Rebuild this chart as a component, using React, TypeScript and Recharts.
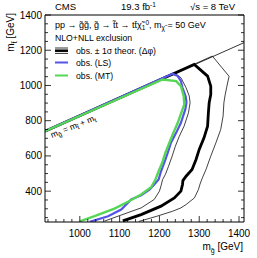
import { LineChart, Line, XAxis, YAxis } from 'recharts';

// contours in (m_gluino, m_stop) GeV
const diagonal: [number, number][] = [[912.5, 740], [1412.5, 1243]];

const obsMinus1s: [number, number][] = [
  [912.5, 740], [1237.5, 1072], [1254, 1044], [1267, 987], [1275, 940], [1277, 902], [1273, 845],
  [1262, 769], [1250, 712], [1240, 655], [1232, 599], [1223, 542], [1215, 495], [1208, 466],
  [1204, 430], [1200, 400], [1187, 353], [1154, 305], [1096, 258], [1062, 230],
];

const obsPlus1s: [number, number][] = [
  [912.5, 740], [1333, 1167], [1375, 1052], [1369, 990], [1365, 945], [1362, 902], [1360, 826],
  [1354, 750], [1342, 675], [1329, 599], [1317, 523], [1308, 476], [1302, 440], [1298, 409],
  [1288, 362], [1267, 324], [1254, 305], [1233, 286], [1194, 258], [1148, 228],
];

const obsDphi: [number, number][] = [
  [912.5, 740], [1287.5, 1119], [1321, 1053], [1329, 996], [1329, 949], [1325, 902], [1323, 845],
  [1321, 769], [1312, 703], [1300, 637], [1292, 580], [1282, 523], [1267, 485], [1259, 460],
  [1258, 438], [1254, 400], [1237.5, 362], [1204, 315], [1154, 267], [1108, 231],
];

const obsLS: [number, number][] = [
  [912.5, 740], [1233, 1067], [1246, 1053], [1254, 1025], [1258, 987], [1266, 937], [1268, 904],
  [1265, 864], [1254, 788], [1242, 731], [1229, 675], [1221, 618], [1212, 561], [1204, 513],
  [1198, 466], [1187, 438], [1175, 409], [1154, 377], [1129, 353], [1104, 296], [1071, 258], [1025, 226],
];

const obsMT: [number, number][] = [
  [912.5, 740], [1208, 1034], [1242, 1025], [1254, 996], [1261, 939], [1262.5, 892], [1258, 864],
  [1246, 788], [1235, 731], [1225, 675], [1215, 618], [1207, 561], [1198, 513], [1190, 466],
  [1179, 422], [1154, 381], [1121, 340], [1087, 301], [1037, 258], [1000, 229],
];

const xLabels = [1000, 1100, 1200, 1300, 1400];
const yLabels = [400, 600, 800, 1000, 1200, 1400];
const xDomain: [number, number] = [912.5, 1412.5];
const yDomain: [number, number] = [225, 1400];

const toRows = (pts: [number, number][]) => pts.map(([x, y]) => ({ x, y }));

const xTicks: number[] = [];
for (let v = 920; v <= 1410; v += 20) xTicks.push(v);
const yTicks: number[] = [];
for (let v = 250; v <= 1400; v += 50) yTicks.push(v);

const font = '"Liberation Sans", Arial, Helvetica, sans-serif';

const BottomTick = (p: any) => {
  const v = p.payload.value;
  const major = xLabels.includes(v);
  return (
    <g>
      <line x1={p.x} x2={p.x} y1={p.y} y2={p.y - (major ? 6 : 3)} stroke="#000" strokeWidth={0.8} />
      {major && (
        <text x={p.x} y={p.y + 15} textAnchor="middle" fontSize={10} fontFamily={font} fill="#000">{v}</text>
      )}
    </g>
  );
};

const TopTick = (p: any) => {
  const major = xLabels.includes(p.payload.value);
  return <line x1={p.x} x2={p.x} y1={p.y} y2={p.y + (major ? 6 : 3)} stroke="#000" strokeWidth={0.8} />;
};

const LeftTick = (p: any) => {
  const v = p.payload.value;
  const major = yLabels.includes(v);
  return (
    <g>
      <line x1={p.x} x2={p.x + (major ? 6 : 3)} y1={p.y} y2={p.y} stroke="#000" strokeWidth={0.8} />
      {major && (
        <text x={p.x - 3} y={p.y + 3.5} textAnchor="end" fontSize={10} fontFamily={font} fill="#000">{v}</text>
      )}
    </g>
  );
};

const RightTick = (p: any) => {
  const major = yLabels.includes(p.payload.value);
  return <line x1={p.x} x2={p.x - (major ? 6 : 3)} y1={p.y} y2={p.y} stroke="#000" strokeWidth={0.8} />;
};

const BLUE = '#5454e6';
const GREEN = '#55d655';

export default function App() {
  const sub = { fontSize: 6.5 };
  return (
    <div style={{ position: 'absolute', left: 0, top: 0, width: 257, height: 258, background: '#fff' }}>
      <LineChart width={257} height={258} margin={{ top: 14, right: 12, bottom: 35, left: 44 }}>
        <XAxis dataKey="x" type="number" domain={xDomain} ticks={xTicks} interval={0} height={1}
          tickSize={0} tickMargin={0} tick={BottomTick} stroke="#000" allowDataOverflow />
        <XAxis xAxisId="top" orientation="top" type="number" domain={xDomain} ticks={xTicks} interval={0}
          height={1} tickSize={0} tickMargin={0} tick={TopTick} stroke="#000" allowDataOverflow />
        <YAxis type="number" domain={yDomain} ticks={yTicks} interval={0} width={1}
          tickSize={0} tickMargin={0} tick={LeftTick} stroke="#000" allowDataOverflow />
        <YAxis yAxisId="right" orientation="right" type="number" domain={yDomain} ticks={yTicks} interval={0}
          width={1} tickSize={0} tickMargin={0} tick={RightTick} stroke="#000" allowDataOverflow />
        <Line data={toRows(diagonal)} dataKey="y" stroke="#000" strokeWidth={0.8} dot={false} activeDot={false} isAnimationActive={false} />
        <Line data={toRows(obsPlus1s)} dataKey="y" stroke="#111" strokeWidth={0.8} dot={false} activeDot={false} isAnimationActive={false} />
        <Line data={toRows(obsMinus1s)} dataKey="y" stroke="#111" strokeWidth={0.8} dot={false} activeDot={false} isAnimationActive={false} />
        <Line data={toRows(obsDphi)} dataKey="y" stroke="#000" strokeWidth={2.8} dot={false} activeDot={false} isAnimationActive={false} />
        <Line data={toRows(obsLS)} dataKey="y" stroke={BLUE} strokeWidth={2.2} dot={false} activeDot={false} isAnimationActive={false} />
        <Line data={toRows(obsMT)} dataKey="y" stroke={GREEN} strokeWidth={2.4} dot={false} activeDot={false} isAnimationActive={false} />
      </LineChart>
      <svg width={257} height={258} style={{ position: 'absolute', left: 0, top: 0, pointerEvents: 'none' }}
        fontFamily={font} fill="#000">
        <text x={55} y={10} fontSize={9.5}>CMS</text>
        <text x={121} y={10} fontSize={9.5}>19.3 fb<tspan dy={-3} fontSize={6.5}>-1</tspan></text>
        <text x={235} y={10} fontSize={9.5} textAnchor="end">√s = 8 TeV</text>

        <text x={55} y={28} fontSize={9}>
          pp → g̃g̃, g̃ → t̃t → tt̄χ̃<tspan dy={2} style={sub}>1</tspan><tspan dy={-5} style={sub}>0</tspan>
          <tspan dy={3}>, m</tspan><tspan dy={2} style={sub}>χ̃</tspan><tspan dy={-2}> = 50 GeV</tspan>
        </text>
        <text x={55} y={40.5} fontSize={8.7}>NLO+NLL exclusion</text>

        <line x1={55} x2={68} y1={48} y2={48} stroke="#000" strokeWidth={0.8} />
        <line x1={55} x2={68} y1={50.7} y2={50.7} stroke="#000" strokeWidth={2.5} />
        <line x1={55} x2={68} y1={53.4} y2={53.4} stroke="#000" strokeWidth={0.8} />
        <text x={76} y={54} fontSize={8.7}>obs. ± 1σ theor. (Δφ)</text>
        <line x1={55} x2={68} y1={62.5} y2={62.5} stroke={BLUE} strokeWidth={2} />
        <text x={76} y={66} fontSize={8.7}>obs. (LS)</text>
        <line x1={55} x2={68} y1={75.5} y2={75.5} stroke={GREEN} strokeWidth={2} />
        <text x={76} y={79} fontSize={8.7}>obs. (MT)</text>

        <text transform="translate(52,138) rotate(-22)" fontSize={8.5}>
          m<tspan dy={2} style={sub}>g̃</tspan><tspan dy={-2}> = m</tspan><tspan dy={2} style={sub}>t̃</tspan>
          <tspan dy={-2}> + m</tspan><tspan dy={2} style={sub}>t</tspan>
        </text>

        <text x={243} y={250} fontSize={10} textAnchor="end">
          m<tspan dy={2.5} fontSize={7}>g̃</tspan><tspan dy={-2.5}> [GeV]</tspan>
        </text>
        <text transform="translate(14,13) rotate(-90)" fontSize={10} textAnchor="end">
          m<tspan dy={2.5} fontSize={7}>t̃</tspan><tspan dy={-2.5}> [GeV]</tspan>
        </text>
      </svg>
    </div>
  );
}
